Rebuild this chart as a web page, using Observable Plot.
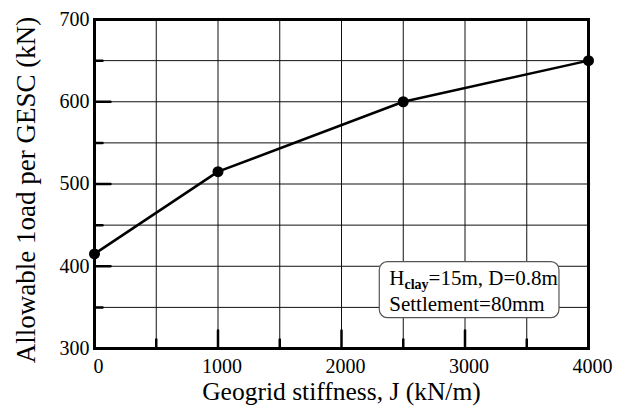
<!DOCTYPE html>
<html>
<head>
<meta charset="utf-8">
<script src="https://cdn.jsdelivr.net/npm/d3@7"></script>
<script src="https://cdn.jsdelivr.net/npm/@observablehq/plot@0.6"></script>
<style>
  html, body { margin: 0; padding: 0; background: #fff; }
  svg { display: block; }
  svg, svg text { font-family: "Liberation Serif", "Times New Roman", serif !important; }
</style>
</head>
<body>
<div id="chart"></div>
<script>
const stiffness = [0, 1000, 2500, 4000];
const allowableLoad = [415, 515, 600, 650];
const xMajorTicks = [0, 1000, 2000, 3000, 4000];
const xMinorTicks = [500, 1500, 2500, 3500];
const yMajorTicks = [300, 400, 500, 600, 700];
const yMinorTicks = [350, 450, 550, 650];
const xGrid = [500, 1000, 1500, 2000, 2500, 3000, 3500];
const yGrid = [350, 400, 450, 500, 550, 600, 650];
const xLabel = "Geogrid stiffness, J (kN/m)";
const yLabel = "Allowable 1oad per GESC (kN)";
const noteLine1 = ["H", "clay", "=15m, D=0.8m"];
const noteLine2 = "Settlement=80mm";

const data = stiffness.map((x, i) => ({x, y: allowableLoad[i]}));
const font = "Liberation Serif, Times New Roman, serif";

const tickShape = {
  draw(context, l) { context.moveTo(0, 0); context.lineTo(0, -l); }
};

const plot = Plot.plot({
  width: 623,
  height: 410,
  marginLeft: 94,
  marginRight: 35,
  marginTop: 19,
  marginBottom: 62,
  style: {fontFamily: font, background: "#fff", color: "#000"},
  x: {domain: [0, 4000], label: null},
  y: {domain: [300, 700], label: null},
  marks: [
    Plot.gridX(xGrid, {stroke: "#111", strokeOpacity: 1, strokeWidth: 1}),
    Plot.gridY(yGrid, {stroke: "#111", strokeOpacity: 1, strokeWidth: 1}),
    Plot.axisX(xMajorTicks, {tickSize: 0, tickPadding: 10, dx: 4, fontSize: 20, fontFamily: font, fill: "#000", tickFormat: d => String(d)}),
    Plot.axisY(yMajorTicks, {tickSize: 0, tickPadding: 5, fontSize: 20, fontFamily: font, fill: "#000", tickFormat: d => String(d)}),
    Plot.vector(xMajorTicks, {x: d => d, frameAnchor: "bottom", length: 18, rotate: 0, anchor: "start", shape: tickShape, stroke: "#000", strokeWidth: 2.5}),
    Plot.vector(xMinorTicks, {x: d => d, frameAnchor: "bottom", length: 9, rotate: 0, anchor: "start", shape: tickShape, stroke: "#000", strokeWidth: 2.5}),
    Plot.vector(yMajorTicks, {y: d => d, frameAnchor: "left", length: 16, rotate: 90, anchor: "start", shape: tickShape, stroke: "#000", strokeWidth: 2.5}),
    Plot.vector(yMinorTicks, {y: d => d, frameAnchor: "left", length: 8, rotate: 90, anchor: "start", shape: tickShape, stroke: "#000", strokeWidth: 2.5}),
    Plot.frame({stroke: "#000", strokeWidth: 3}),
    Plot.line(data, {x: "x", y: "y", stroke: "#000", strokeWidth: 2.5}),
    Plot.dot(data, {x: "x", y: "y", r: 5.5, fill: "#000", stroke: "none"}),
    Plot.text([xLabel], {frameAnchor: "bottom", dy: 43, fontSize: 25.5, fontFamily: font, lineAnchor: "middle", textAnchor: "middle", fill: "#000"}),
    Plot.text([yLabel], {frameAnchor: "left", dx: -68, dy: 6, rotate: -90, fontSize: 27, fontFamily: font, lineAnchor: "middle", textAnchor: "middle", fill: "#000"})
  ]
});

document.getElementById("chart").appendChild(plot);

// annotation box (rounded rectangle with subscript text)
const sx = plot.scale("x"), sy = plot.scale("y");
const svg = d3.select(plot);
const g = svg.append("g").attr("text-anchor", "start");
const bx0 = sx.apply(2310), bx1 = sx.apply(3765);
const by0 = sy.apply(405), by1 = sy.apply(337);
g.append("rect")
  .attr("x", bx0).attr("y", by0)
  .attr("width", bx1 - bx0).attr("height", by1 - by0)
  .attr("rx", 8).attr("ry", 8)
  .attr("fill", "#fff").attr("stroke", "#555").attr("stroke-width", 1.2);
const t1 = g.append("text")
  .attr("x", bx0 + 10).attr("y", by0 + 23)
  .attr("font-size", 21).attr("fill", "#000");
t1.append("tspan").text(noteLine1[0]);
t1.append("tspan").attr("font-size", 14).attr("font-weight", "bold").attr("dy", 4).text(noteLine1[1]);
t1.append("tspan").attr("dy", -4).text(noteLine1[2]);
g.append("text")
  .attr("x", bx0 + 10).attr("y", by0 + 49)
  .attr("font-size", 21).attr("fill", "#000")
  .text(noteLine2);
</script>
</body>
</html>
